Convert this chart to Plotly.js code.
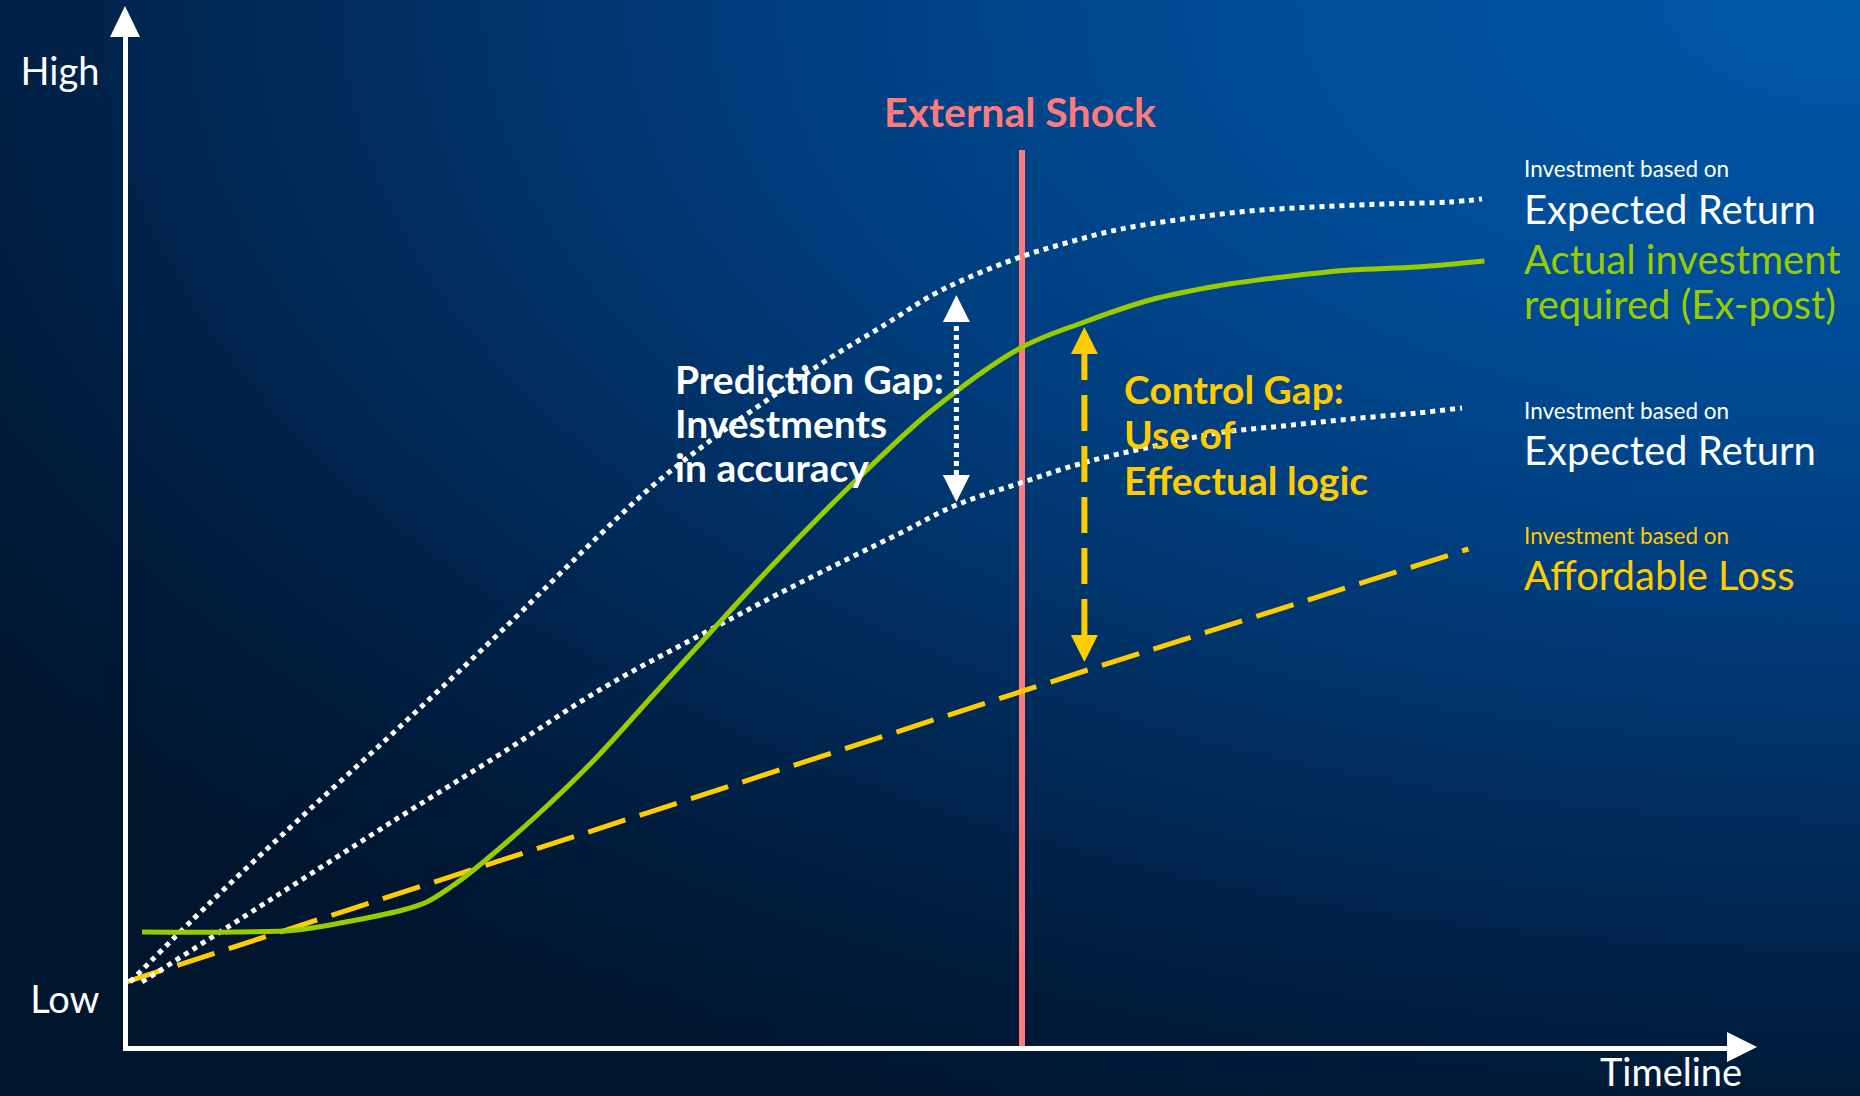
<!DOCTYPE html>
<html>
<head>
<meta charset="utf-8">
<script src="https://cdn.plot.ly/plotly-3.0.1.min.js"></script>
<style>
  html, body { margin: 0; padding: 0; }
  #chart {
    width: 1860px; height: 1096px;
    background: radial-gradient(ellipse 120% 110% at 100% 0%, #0057a8 0%, #004c96 28%, #003d7c 50%, #002b5a 70%, #001c3d 88%, #00162f 100%);
  }
</style>
</head>
<body>
<div id="chart"></div>
<script>
// ---------------- data ----------------
// Investment based on Expected Return (upper, prediction-based)
const predX = [0.25, 5.3, 10.9, 17.1, 23.4, 29.6, 32.9, 36.9, 40.9, 44.2, 47.3, 50.4, 52.6, 55.9, 58.1, 61.9, 66.1, 70.25, 74.4, 78.6, 82.75, 84.75];
const predY = [6.4, 14.4, 22.8, 31.9, 41.4, 51.1, 56.0, 61.0, 65.5, 69.0, 72.0, 75.1, 76.8, 78.9, 80.0, 81.6, 82.7, 83.5, 83.9, 84.2, 84.4, 84.7];
// Investment based on Expected Return (lower)
const lowerX = [1.0, 9.0, 17.1, 23.4, 29.6, 35.9, 42.1, 48.4, 51.9, 55.9, 59.8, 64.0, 68.2, 72.3, 76.5, 80.7, 83.5];
const lowerY = [6.4, 14.6, 22.9, 29.2, 35.6, 41.1, 46.3, 51.3, 54.1, 56.3, 58.3, 59.9, 61.3, 62.0, 62.7, 63.3, 63.8];
// Actual investment required (Ex-post)
const actualX = [1.0, 6.9, 10.7, 14.4, 17.3, 18.8, 20.3, 21.8, 25.5, 29.2, 32.9, 36.6, 40.3, 44.0, 46.3, 50.4, 55.9, 59.9, 64.0, 68.2, 72.3, 76.5, 80.7, 84.9];
const actualY = [11.4, 11.4, 11.6, 12.6, 13.6, 14.4, 15.9, 17.7, 22.8, 28.5, 35.0, 41.5, 47.9, 54.0, 57.6, 63.6, 69.8, 72.4, 74.6, 76.0, 76.9, 77.6, 77.9, 78.5];
// Investment based on Affordable Loss
const lossX = [0.0, 60.1, 83.9];
const lossY = [6.4, 37.6, 49.7];
// External shock
const shockX = 56.0;
const shockTop = 89.6;
// Gap arrows: [Prediction Gap, Control Gap]
const gapX = [51.9, 59.9];
const gapLow = [54.4, 38.4];
const gapHigh = [75.1, 71.9];
// Axis labels
const yTickVals = [4.6, 97.4];
const yTickText = ['Low', 'High'];

// ---------------- styling ----------------
const FONT = 'Lato, "Open Sans", sans-serif';
const WHITE = '#ffffff', GREEN = '#99cc00', YELLOW = '#ffcc00', RED = '#ff7a7d';
const L = 128, R = 1727, T = 37, B = 1046;          // plot box in pixels
const XR = [(L - 126) / 16, (R - 126) / 16], YR = [0, 100.9];
const pxPerX = (R - L) / (XR[1] - XR[0]);
const pxPerY = (B - T) / (YR[1] - YR[0]);
const P = (px, py) => ({ x: (px - L) / (R - L), y: (B - py) / (B - T) });

function head(x, tipY, dir, color) {
  const hw = 13.5 / pxPerX, h = 27 / pxPerY;
  const baseY = tipY - dir * h;
  return {
    x: [x - hw, x + hw, x, x - hw], y: [baseY, baseY, tipY, baseY],
    mode: 'lines', fill: 'toself', fillcolor: color,
    line: { width: 0, color: color }
  };
}

const traces = [
  { x: [shockX, shockX], y: [YR[0], shockTop], mode: 'lines', line: { color: RED, width: 6 } },
  { x: lossX, y: lossY, mode: 'lines', line: { color: YELLOW, width: 5, dash: '39px,15px' } },
  { x: predX, y: predY, mode: 'lines', line: { color: WHITE, width: 5, dash: '5px,5px', shape: 'spline', smoothing: 1 } },
  { x: lowerX, y: lowerY, mode: 'lines', line: { color: WHITE, width: 5, dash: '5px,5px', shape: 'spline', smoothing: 1 } },
  { x: actualX, y: actualY, mode: 'lines', line: { color: GREEN, width: 5, shape: 'spline', smoothing: 1 } },
  // prediction gap arrow
  { x: [gapX[0], gapX[0]], y: [gapLow[0] + 27 / pxPerY, gapHigh[0] - 27 / pxPerY], mode: 'lines', line: { color: WHITE, width: 5, dash: '5px,4px' } },
  head(gapX[0], gapHigh[0], 1, WHITE),
  head(gapX[0], gapLow[0], -1, WHITE),
  // control gap arrow
  { x: [gapX[1], gapX[1]], y: [gapLow[1] + 27 / pxPerY, gapHigh[1] - 27 / pxPerY], mode: 'lines', line: { color: YELLOW, width: 6, dash: '36px,15px' } },
  head(gapX[1], gapHigh[1], 1, YELLOW),
  head(gapX[1], gapLow[1], -1, YELLOW)
];
traces.forEach(t => { t.showlegend = false; t.hoverinfo = 'skip'; t.cliponaxis = false; });

function lab(text, px, baseline, size, color, bold, xanchor) {
  const p = P(px, baseline - 0.33 * size);
  return {
    text: text, xref: 'paper', yref: 'paper', x: p.x, y: p.y,
    xanchor: xanchor || 'left', yanchor: 'middle', align: 'left', showarrow: false,
    font: { family: FONT, size: size, color: color, weight: bold ? 'bold' : 'normal' }
  };
}

const annotations = [
  lab('External Shock', 1020, 125, 41, RED, true, 'center'),
  lab('Prediction Gap:', 673, 392, 39, WHITE, true),
  lab('Investments', 673, 436, 39, WHITE, true),
  lab('in accuracy', 673, 480, 39, WHITE, true),
  lab('Control Gap:', 1122, 402, 39, YELLOW, true),
  lab('Use of', 1122, 447, 39, YELLOW, true),
  lab('Effectual logic', 1122, 493, 39, YELLOW, true),
  lab('Investment based on', 1522, 176, 22.5, WHITE),
  lab('Expected Return', 1522, 222, 40, WHITE),
  lab('Actual investment', 1522, 272, 40, GREEN),
  lab('required (Ex-post)', 1522, 317, 40, GREEN),
  lab('Investment based on', 1522, 418, 22.5, WHITE),
  lab('Expected Return', 1522, 463, 40, WHITE),
  lab('Investment based on', 1522, 543, 22.5, YELLOW),
  lab('Affordable Loss', 1522, 588, 40, YELLOW),
  (() => { const p = P(1598, 1096); return { text: 'Timeline', xref: 'paper', yref: 'paper', x: p.x, y: p.y,
      xanchor: 'left', yanchor: 'bottom', showarrow: false, font: { family: FONT, size: 38, color: WHITE } }; })()
];

const a1 = P(110, 37), a2 = P(140, 37), a3 = P(125, 6);
const b1 = P(1727, 1032), b2 = P(1727, 1062), b3 = P(1757, 1047);
const shapes = [
  { type: 'path', xref: 'paper', yref: 'paper', path: `M ${a1.x} ${a1.y} L ${a2.x} ${a2.y} L ${a3.x} ${a3.y} Z`, fillcolor: WHITE, line: { width: 0 } },
  { type: 'path', xref: 'paper', yref: 'paper', path: `M ${b1.x} ${b1.y} L ${b2.x} ${b2.y} L ${b3.x} ${b3.y} Z`, fillcolor: WHITE, line: { width: 0 } }
];

const layout = {
  width: 1860, height: 1096,
  margin: { l: L, r: 1860 - R, t: T, b: 1096 - B, pad: 0 },
  paper_bgcolor: 'rgba(0,0,0,0)', plot_bgcolor: 'rgba(0,0,0,0)',
  showlegend: false,
  font: { family: FONT, color: WHITE },
  xaxis: { range: XR, showline: true, linecolor: WHITE, linewidth: 5, showgrid: false, zeroline: false, showticklabels: false, ticks: '', fixedrange: true },
  yaxis: { range: YR, showline: true, linecolor: WHITE, linewidth: 5, showgrid: false, zeroline: false, ticks: '',
           tickvals: yTickVals, ticktext: yTickText, ticklabelstandoff: 16,
           tickfont: { family: FONT, size: 38, color: WHITE }, fixedrange: true },
  annotations: annotations,
  shapes: shapes
};

Plotly.newPlot('chart', traces, layout, { staticPlot: true, displayModeBar: false });
</script>
</body>
</html>
